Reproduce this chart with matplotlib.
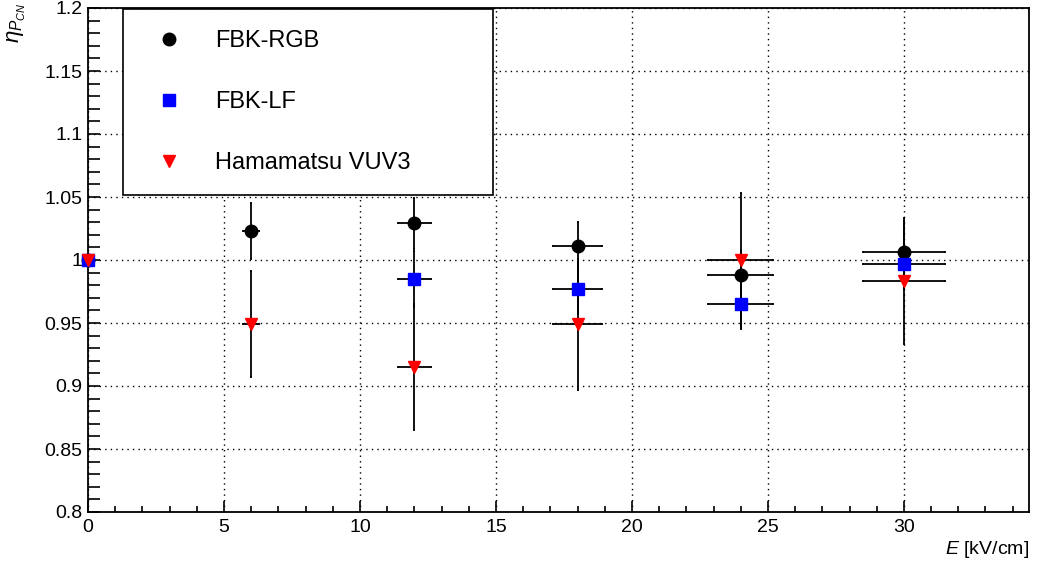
import matplotlib
matplotlib.use("Agg")
import matplotlib.pyplot as plt
from matplotlib.ticker import MultipleLocator, FormatStrFormatter

plt.rcParams['font.family'] = ['Liberation Sans', 'DejaVu Sans']
plt.rcParams['mathtext.fontset'] = 'custom'
plt.rcParams['mathtext.rm'] = 'Liberation Sans'
plt.rcParams['mathtext.it'] = 'Liberation Sans:italic'

# ---- data ----
E_field = [0, 6, 12, 18, 24, 30]
E_err = [0, 0.3, 0.6, 0.9, 1.2, 1.5]

rgb_val = [1.0, 1.023, 1.029, 1.011, 0.988, 1.006]
rgb_err = [0, 0.022, 0.020, 0.019, 0.020, 0.025]

lf_field = [0, 12, 18, 24, 30]
lf_Eerr = [0, 0.6, 0.9, 1.2, 1.5]
lf_val = [1.0, 0.985, 0.977, 0.965, 0.997]
lf_err = [0, 0.022, 0.020, 0.020, 0.020]

ham_val = [1.0, 0.949, 0.915, 0.949, 1.0, 0.983]
ham_err = [0, 0.042, 0.050, 0.052, 0.053, 0.050]

labels = ["FBK-RGB", "FBK-LF", "Hamamatsu VUV3"]

W, H = 1038, 565
fig = plt.figure(figsize=(W / 100, H / 100), dpi=100)
ax = fig.add_axes([88 / W, 1 - 512 / H, (1029 - 88) / W, (512 - 8) / H])

common = dict(ecolor='black', elinewidth=1.3, capsize=1.0, capthick=1.3,
              linestyle='none', clip_on=False, zorder=3)
h1 = ax.errorbar(E_field, rgb_val, yerr=rgb_err, xerr=E_err, fmt='o',
                 color='black', markersize=9, **common)
h2 = ax.errorbar(lf_field, lf_val, yerr=lf_err, xerr=lf_Eerr, fmt='s',
                 color='#0000ff', markersize=8.5, **common)
h3 = ax.errorbar(E_field, ham_val, yerr=ham_err, xerr=E_err, fmt='v',
                 color='#ff0000', markersize=9, **common)

ax.set_xlim(0, 34.6)
ax.set_ylim(0.8, 1.2)
ax.xaxis.set_major_locator(MultipleLocator(5))
ax.xaxis.set_minor_locator(MultipleLocator(1))
ax.yaxis.set_major_locator(MultipleLocator(0.05))
ax.yaxis.set_minor_locator(MultipleLocator(0.01))
ax.yaxis.set_major_formatter(FormatStrFormatter('%g'))
ax.xaxis.set_major_formatter(FormatStrFormatter('%g'))

ax.tick_params(axis='both', which='both', direction='in', top=False, right=False,
               labelsize=14, width=1.2)
ax.tick_params(axis='x', which='major', length=8, pad=5)
ax.tick_params(axis='x', which='minor', length=4.5)
ax.tick_params(axis='y', which='major', length=8.5, pad=4)
ax.tick_params(axis='y', which='minor', length=8.5)

ax.grid(True, which='major', color='black', linestyle=(0, (1, 3)), linewidth=1.0)
ax.set_axisbelow(True)
for s in ax.spines.values():
    s.set_linewidth(1.3)

ax.set_xlabel(r'$E$ [kV/cm]', fontsize=14, loc='right', labelpad=2)
fig.text(17 / W, 1 - 3 / H, r'$\eta_{P_{CN}}$', rotation=90, ha='center', va='top', fontsize=16)

leg = ax.legend(handles=[h1[0], h2[0], h3[0]], labels=labels, loc='upper left',
                bbox_to_anchor=(123 / W, 1 - 9 / H, (493 - 123) / W, 0.0),
                bbox_transform=fig.transFigure, mode='expand', borderaxespad=0,
                fontsize=17, numpoints=1, fancybox=False, framealpha=1,
                edgecolor='black', borderpad=0.9, labelspacing=1.65,
                handlelength=2.06, handletextpad=0.95)
leg.get_frame().set_linewidth(1.2)
leg.set_zorder(10)

fig.savefig('out.png', dpi=100)
